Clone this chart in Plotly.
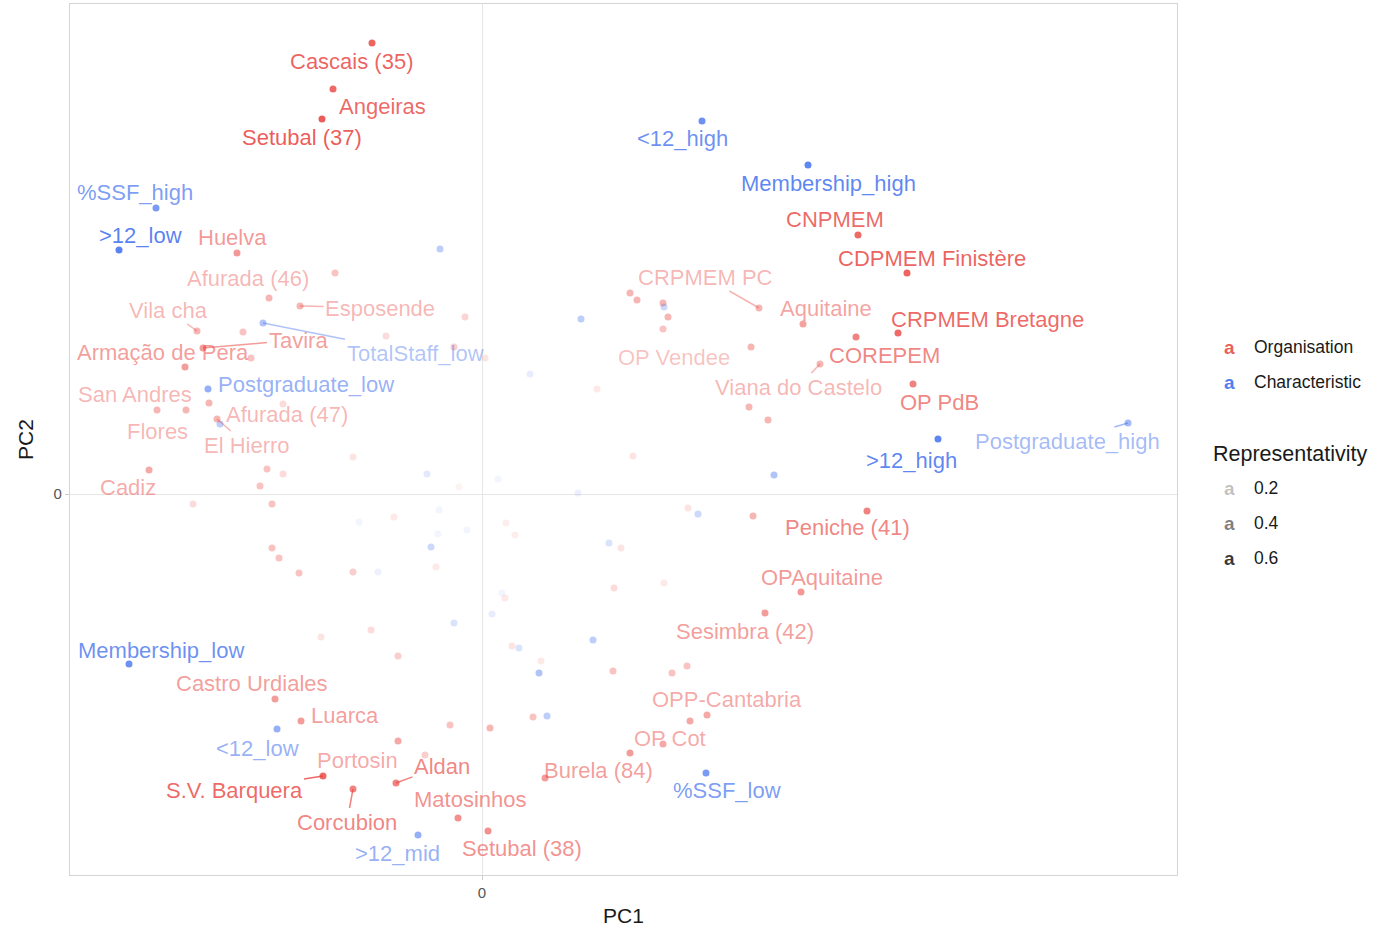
import plotly.graph_objects as go

# ---------------- data ----------------
label_names = ["Cascais (35)", "Angeiras", "Setubal (37)", "%SSF_high", ">12_low", "Huelva",
               "Afurada (46)", "Esposende", "Vila cha", "Tavira", "Armação de Pera", "TotalStaff_low",
               "Postgraduate_low", "San Andres", "Flores", "Afurada (47)", "El Hierro", "Cadiz",
               "<12_high", "Membership_high", "CNPMEM", "CDPMEM Finistère", "CRPMEM PC", "Aquitaine",
               "CRPMEM Bretagne", "COREPEM", "OP Vendee", "Viana do Castelo", "OP PdB",
               "Postgraduate_high", ">12_high", "Peniche (41)", "OPAquitaine", "Sesimbra (42)",
               "OPP-Cantabria", "OP Cot", "Burela (84)", "%SSF_low", "Setubal (38)", "Membership_low",
               "Castro Urdiales", "Luarca", "<12_low", "Portosin", "S.V. Barquera", "Corcubion",
               "Aldan", "Matosinhos", ">12_mid"]
label_pc1 = [-0.55, -0.745, -0.80, -1.63, -1.815, -1.225, -1.065, -0.91, -1.425, -1.395, -1.485, -1.095,
             -1.37, -1.625, -1.48, -1.365, -1.325, -1.665, 1.10, 1.63, 1.88, 2.125, 1.385, 1.605,
             2.08, 1.87, 0.905, 1.69, 2.155, 3.23, 2.28, 1.925, 1.595, 1.415, 1.125, 0.905, 0.315,
             1.12, 0.03, -1.765, -1.035, -0.905, -1.025, -0.42, -0.795, -0.645, -0.43, -0.12, -0.32]
label_pc2 = [2.255, 2.025, 1.875, 1.43, 1.22, 1.205, 0.98, 0.94, 0.815, 0.73, 0.635, 0.855,
             0.525, 0.42, 0.42, 0.455, 0.375, 0.12, 1.865, 1.645, 1.295, 1.105, 0.93, 0.85,
             0.805, 0.785, 0.825, 0.65, 0.55, 0.355, 0.275, -0.085, -0.49, -0.595, -1.105, -1.25,
             -1.42, -1.395, -1.685, -0.85, -1.025, -1.135, -1.175, -1.235, -1.41, -1.475, -1.445,
             -1.62, -1.705]
label_type = ["Organisation", "Organisation", "Organisation", "Characteristic", "Characteristic",
              "Organisation", "Organisation", "Organisation", "Organisation", "Organisation",
              "Organisation", "Characteristic", "Characteristic", "Organisation", "Organisation",
              "Organisation", "Organisation", "Organisation", "Characteristic", "Characteristic",
              "Organisation", "Organisation", "Organisation", "Organisation", "Organisation",
              "Organisation", "Organisation", "Organisation", "Organisation", "Characteristic",
              "Characteristic", "Organisation", "Organisation", "Organisation", "Organisation",
              "Organisation", "Organisation", "Characteristic", "Organisation", "Characteristic",
              "Organisation", "Organisation", "Characteristic", "Organisation", "Organisation",
              "Organisation", "Organisation", "Organisation", "Characteristic"]
label_rep = [0.62, 0.60, 0.65, 0.50, 0.62, 0.42, 0.30, 0.30, 0.30, 0.40, 0.40, 0.30,
             0.40, 0.30, 0.30, 0.30, 0.30, 0.35, 0.55, 0.60, 0.60, 0.62, 0.30, 0.38,
             0.60, 0.50, 0.25, 0.30, 0.50, 0.35, 0.60, 0.50, 0.42, 0.40, 0.35, 0.35, 0.40,
             0.50, 0.45, 0.55, 0.40, 0.40, 0.40, 0.35, 0.60, 0.50, 0.50, 0.45, 0.40]

other_pc1 = [-0.735, -1.195, -1.155, -0.995, -0.645, -1.075, -0.995, -1.11, -1.445, -1.05,
             -0.21, -0.085, -0.48, -0.14, 0.015, -1.31, -0.275, -0.115, 0.08, 0.24, 0.495,
             0.575, 0.74, 0.775, 0.905, 0.91, 0.93, 1.345, 1.335, 1.43, 1.46, 0.755, 0.48,
             1.03, 1.08, 1.355, 0.12, 0.165, -0.615, -0.44, -0.215, -0.22, -0.075, -0.255,
             -0.23, -0.645, -0.52, -1.05, -1.015, -0.915, 0.635, 0.695, 0.66, 0.91, 0.10,
             0.115, 0.05, -0.14, -0.555, -0.805, -0.42, 0.15, 0.185, 0.295, 0.285, 0.555,
             0.655, 0.95, 1.025, 1.04, 0.74, 0.255, 0.325, -0.16, 0.04, -0.285]
other_pc2 = [1.105, 0.81, 0.68, 0.45, 0.185, 0.125, 0.10, 0.04, -0.05, -0.05,
             1.225, 0.885, 0.79, 0.735, 0.68, 0.35, 0.10, 0.035, 0.075, 0.60, 0.875,
             0.525, 1.005, 0.97, 0.955, 0.935, 0.885, 0.735, 0.435, 0.37, 0.095, 0.19, 0.005,
             -0.07, -0.10, -0.11, -0.145, -0.205, -0.14, -0.115, -0.08, -0.20, -0.18, -0.265,
             -0.365, -0.39, -0.39, -0.27, -0.32, -0.395, -0.245, -0.27, -0.47, -0.445, -0.495,
             -0.52, -0.60, -0.645, -0.68, -0.715, -0.81, -0.76, -0.77, -0.835, -0.895, -0.73,
             -0.885, -0.895, -0.86, -1.135, -1.295, -1.115, -1.11, -1.155, -1.17, -1.305]
other_type = ["Organisation", "Organisation", "Organisation", "Organisation", "Organisation",
              "Organisation", "Organisation", "Organisation", "Organisation", "Organisation",
              "Characteristic", "Organisation", "Organisation", "Organisation", "Organisation",
              "Characteristic", "Characteristic", "Organisation", "Characteristic", "Characteristic",
              "Characteristic", "Organisation", "Organisation", "Organisation", "Organisation",
              "Characteristic", "Organisation", "Organisation", "Organisation", "Organisation",
              "Characteristic", "Organisation", "Characteristic", "Organisation", "Characteristic",
              "Organisation", "Organisation", "Organisation", "Characteristic", "Organisation",
              "Characteristic", "Characteristic", "Characteristic", "Characteristic",
              "Organisation", "Organisation", "Characteristic", "Organisation", "Organisation",
              "Organisation", "Characteristic", "Organisation", "Organisation", "Organisation",
              "Characteristic", "Organisation", "Characteristic", "Characteristic", "Organisation",
              "Organisation", "Organisation", "Organisation", "Characteristic", "Organisation",
              "Characteristic", "Characteristic", "Organisation", "Organisation", "Organisation",
              "Organisation", "Organisation", "Organisation", "Characteristic", "Organisation",
              "Organisation", "Organisation"]
other_rep = [0.25, 0.25, 0.25, 0.15, 0.12, 0.25, 0.15, 0.25, 0.15, 0.25,
             0.25, 0.18, 0.15, 0.20, 0.12, 0.25, 0.12, 0.06, 0.06, 0.10, 0.25,
             0.10, 0.30, 0.30, 0.30, 0.20, 0.30, 0.30, 0.30, 0.30, 0.30, 0.12, 0.08,
             0.12, 0.20, 0.30, 0.08, 0.08, 0.06, 0.10, 0.06, 0.06, 0.06, 0.20,
             0.10, 0.20, 0.08, 0.25, 0.25, 0.25, 0.15, 0.12, 0.15, 0.10, 0.06,
             0.10, 0.10, 0.15, 0.15, 0.12, 0.20, 0.12, 0.15, 0.10, 0.30, 0.25,
             0.25, 0.25, 0.25, 0.35, 0.40, 0.25, 0.25, 0.25, 0.30, 0.20]

# label placement (pixel offsets from the point; names in label_seg get a leader segment)
label_dx = [-21, 49, -20, -21, 21, -5, -21, 80, -29, 95, -22, 152, 98, -22, -29, 78, 30, -21,
            -20, 20, -23, 25, -54, 23, 89, 28, 11, -22, 26, -61, -27, -20, 21, -20, 20, 7, 53,
            21, 34, 32, -23, 44, -20, -41, -89, -6, 46, 12, -21]
label_dy = [18, 17, 18, -16, -15, -16, -20, 2, -21, -8, -15, 30, -5, -16, 21, 11, 26, 17,
            17, 18, -16, -15, -31, -16, -14, 18, 28, 23, 18, 18, 21, 16, -15, 18, -16, -6, -8,
            17, 17, -14, -16, -6, 19, 19, 14, 33, -17, -19, 18]
label_seg = {"Esposende", "Vila cha", "Tavira", "TotalStaff_low", "El Hierro", "CRPMEM PC",
             "CRPMEM Bretagne", "Viana do Castelo", "Postgraduate_high", "S.V. Barquera",
             "Corcubion", "Aldan"}

COLORS = {"Organisation": (232, 65, 60), "Characteristic": (51, 102, 238)}
FONT = "Liberation Sans, Arial, Helvetica, sans-serif"


def alpha(r):
    a = 0.05 + 0.80 * (r - 0.05) / 0.60
    return max(0.04, min(0.9, a))


def rgba(t, r):
    c = COLORS[t]
    return f"rgba({c[0]},{c[1]},{c[2]},{alpha(r):.3f})"


fig = go.Figure()
all_x = other_pc1 + label_pc1
all_y = other_pc2 + label_pc2
all_t = other_type + label_type
all_r = other_rep + label_rep
fig.add_trace(go.Scatter(
    x=all_x, y=all_y, mode="markers",
    marker=dict(size=7, color=[rgba(t, r) for t, r in zip(all_t, all_r)], line=dict(width=0)),
    showlegend=False, hoverinfo="skip"))

annotations = []
for n, x, y, t, r, dx, dy in zip(label_names, label_pc1, label_pc2, label_type, label_rep,
                                 label_dx, label_dy):
    col = rgba(t, r)
    if n in label_seg:
        annotations.append(dict(x=x, y=y, xref="x", yref="y", text=n, showarrow=True,
                                ax=dx, ay=dy, arrowhead=0, arrowwidth=1.5, arrowcolor=col,
                                standoff=0, font=dict(family=FONT, size=22, color=col)))
    else:
        annotations.append(dict(x=x, y=y, xref="x", yref="y", text=n, showarrow=False,
                                xshift=dx, yshift=-dy, xanchor="center", yanchor="middle",
                                font=dict(family=FONT, size=22, color=col)))

# manual ggplot-like legends
L, W, B, H = 70, 1107, 875, 871


def px(xp):
    return (xp - L) / W


def py(yp):
    return (B - yp) / H


legend_rows = [("Organisation", COLORS["Organisation"], 0.85, 347),
               ("Characteristic", COLORS["Characteristic"], 0.85, 382)]
for txt, c, a, yy in legend_rows:
    annotations.append(dict(x=px(1229), y=py(yy), xref="paper", yref="paper", text="<b>a</b>",
                            showarrow=False, xanchor="center", yanchor="middle",
                            font=dict(family=FONT, size=19, color=f"rgba({c[0]},{c[1]},{c[2]},{a})")))
    annotations.append(dict(x=px(1252), y=py(yy), xref="paper", yref="paper", text=txt,
                            showarrow=False, xanchor="left", yanchor="middle",
                            font=dict(family=FONT, size=17.5, color="#1a1a1a")))
annotations.append(dict(x=px(1211), y=py(454), xref="paper", yref="paper", text="Representativity",
                        showarrow=False, xanchor="left", yanchor="middle",
                        font=dict(family=FONT, size=21.5, color="#1a1a1a")))
for val, yy in [(0.2, 488), (0.4, 523), (0.6, 558)]:
    annotations.append(dict(x=px(1229), y=py(yy), xref="paper", yref="paper", text="<b>a</b>",
                            showarrow=False, xanchor="center", yanchor="middle",
                            font=dict(family=FONT, size=19, color=f"rgba(0,0,0,{alpha(val):.3f})")))
    annotations.append(dict(x=px(1252), y=py(yy), xref="paper", yref="paper", text=f"{val}",
                            showarrow=False, xanchor="left", yanchor="middle",
                            font=dict(family=FONT, size=17.5, color="#1a1a1a")))

axis_common = dict(tickvals=[0], ticktext=["0"], showgrid=True, gridcolor="#E6E6E6", gridwidth=1.3,
                   zeroline=False, showline=True, mirror=True, linecolor="#D4D4D4", linewidth=1.3,
                   ticks="outside", ticklen=4, tickcolor="#CCCCCC",
                   tickfont=dict(family=FONT, size=15, color="#555555"))

fig.update_layout(
    width=1373, height=934,
    margin=dict(l=70, r=196, t=4, b=59),
    paper_bgcolor="white", plot_bgcolor="white",
    xaxis=dict(range=[-2.06, 3.475], title=dict(text="PC1", standoff=8,
               font=dict(family=FONT, size=21, color="#1a1a1a")), **axis_common),
    yaxis=dict(range=[-1.905, 2.45], title=dict(text="PC2", standoff=14,
               font=dict(family=FONT, size=21, color="#1a1a1a")), **axis_common),
    annotations=annotations,
    showlegend=False,
)

fig.write_html("out.html", config={"displayModeBar": False},
               post_script="document.body.style.margin='0';document.body.style.overflow='hidden';")
